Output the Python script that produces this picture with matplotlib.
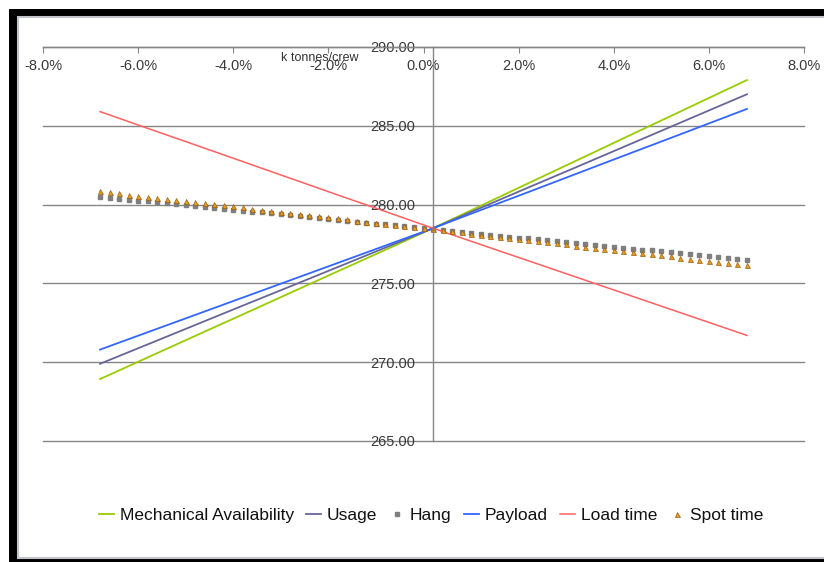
import matplotlib
matplotlib.use("Agg")
import matplotlib.pyplot as plt
import numpy as np
from matplotlib.patches import Rectangle
from matplotlib.ticker import FormatStrFormatter, FuncFormatter

plt.rcParams['font.family'] = ['Liberation Sans', 'DejaVu Sans']

# change in parameter (%) for the line series
x_line = [-6.8, -5.8, -4.8, -3.8, -2.8, -1.8, -0.8, 0.2, 1.2, 2.2, 3.2, 4.2, 5.2, 6.2, 6.8]

mech_avail = [268.93, 270.30, 271.67, 273.03, 274.40, 275.77, 277.13, 278.50,
              279.92, 281.35, 282.77, 284.20, 285.62, 287.05, 287.90]
usage = [269.90, 271.13, 272.36, 273.59, 274.81, 276.04, 277.27, 278.50,
         279.79, 281.08, 282.36, 283.65, 284.94, 286.23, 287.00]
payload = [270.80, 271.90, 273.00, 274.10, 275.20, 276.30, 277.40, 278.50,
           279.65, 280.79, 281.94, 283.09, 284.23, 285.38, 286.07]
load_time = [285.90, 284.84, 283.79, 282.73, 281.67, 280.61, 279.56, 278.50,
             277.47, 276.44, 275.41, 274.38, 273.35, 272.32, 271.70]

# marker series, one point every 0.2 %
x_mark = np.linspace(-6.8, 6.8, 69)

hang = [280.50, 280.44, 280.38, 280.32, 280.26, 280.21, 280.15, 280.09, 280.03, 279.97,
        279.91, 279.85, 279.79, 279.74, 279.68, 279.62, 279.56, 279.50, 279.44, 279.38,
        279.32, 279.27, 279.21, 279.15, 279.09, 279.03, 278.97, 278.91, 278.85, 278.79,
        278.74, 278.68, 278.62, 278.56, 278.50, 278.44, 278.38, 278.32, 278.26, 278.21,
        278.15, 278.09, 278.03, 277.97, 277.91, 277.85, 277.79, 277.74, 277.68, 277.62,
        277.56, 277.50, 277.44, 277.38, 277.32, 277.27, 277.21, 277.15, 277.09, 277.03,
        276.97, 276.91, 276.85, 276.79, 276.74, 276.68, 276.62, 276.56, 276.50]
spot_time = [280.85, 280.78, 280.71, 280.64, 280.57, 280.51, 280.44, 280.37, 280.30, 280.23,
             280.16, 280.09, 280.02, 279.95, 279.88, 279.82, 279.75, 279.68, 279.61, 279.54,
             279.47, 279.40, 279.33, 279.26, 279.19, 279.13, 279.06, 278.99, 278.92, 278.85,
             278.78, 278.71, 278.64, 278.57, 278.50, 278.43, 278.36, 278.30, 278.23, 278.16,
             278.09, 278.02, 277.95, 277.88, 277.81, 277.74, 277.67, 277.61, 277.54, 277.47,
             277.40, 277.33, 277.26, 277.19, 277.12, 277.05, 276.98, 276.92, 276.85, 276.78,
             276.71, 276.64, 276.57, 276.50, 276.43, 276.36, 276.29, 276.23, 276.16]

x_ticks = [-8, -6, -4, -2, 0, 2, 4, 6, 8]
y_ticks = [265, 270, 275, 280, 285, 290]

W, H = 824, 562
fig = plt.figure(figsize=(W / 100, H / 100), dpi=100)


def px_rect(x0, y0, x1, y1, **kw):
    return Rectangle((x0 / W, 1 - y1 / H), (x1 - x0) / W, (y1 - y0) / H,
                     transform=fig.transFigure, **kw)


# black frame around the chart, light grey inner edge
fig.add_artist(px_rect(9, 9, 900, 600, facecolor='black', edgecolor='none', zorder=-3))
fig.add_artist(px_rect(18, 17, 900, 558, facecolor='white', edgecolor='#c4c4cc',
                       linewidth=1.5, zorder=-2))

ax = fig.add_axes([43 / W, 1 - 441 / H, 761 / W, 394 / H])
ax.set_facecolor('none')

ax.plot(x_line, mech_avail, color='#99CC00', lw=1.3, label='Mechanical Availability')
ax.plot(x_line, usage, color='#666699', lw=1.3, label='Usage')
ax.plot(x_mark, hang, ls='none', marker='s', ms=3.4, color='#7f7f7f', label='Hang')
ax.plot(x_line, payload, color='#3366FF', lw=1.3, label='Payload')
ax.plot(x_line, load_time, color='#FF6060', lw=1.1, label='Load time')
ax.plot(x_mark, spot_time, ls='none', marker='^', ms=3.6, markerfacecolor='#E89A20',
        markeredgecolor='#9A6010', markeredgewidth=0.5, label='Spot time')

ax.set_xlim(-8, 8)
ax.set_ylim(265, 290)
ax.set_xticks(x_ticks)
ax.set_yticks(y_ticks)
ax.xaxis.set_major_formatter(FuncFormatter(lambda v, p: '%.1f%%' % v))
ax.yaxis.set_major_formatter(FormatStrFormatter('%.2f'))

for s in ['top', 'right']:
    ax.spines[s].set_visible(False)
ax.spines['bottom'].set_position(('data', 290))
ax.spines['left'].set_position(('data', 0.2))
for s in ['bottom', 'left']:
    ax.spines[s].set_color('#868686')
    ax.spines[s].set_linewidth(1.0)

ax.yaxis.grid(True, color='#868686', lw=1.0)
for gl in ax.get_ygridlines():
    gl.set_clip_on(False)
ax.set_axisbelow(True)
ax.tick_params(axis='x', direction='out', length=4, color='#868686', pad=5,
               labelsize=10.5, labelcolor='#3a3a3a')
ax.tick_params(axis='y', length=0, pad=13,
               labelsize=10.5, labelcolor='#3a3a3a')

ax.set_ylabel('k tonnes/crew', rotation=0, fontsize=9, color='#333333',
              ha='center', va='center')
ax.yaxis.set_label_coords((320 - 43) / 761, (441 - 58) / 394)

fig.legend(loc='center', bbox_to_anchor=(431 / W, 1 - 515 / H), ncol=6, frameon=False,
           fontsize=12.5, handlelength=0.9, handletextpad=0.3, columnspacing=0.7,
           borderaxespad=0, labelcolor='#111111')

fig.savefig('out.png', dpi=100)
